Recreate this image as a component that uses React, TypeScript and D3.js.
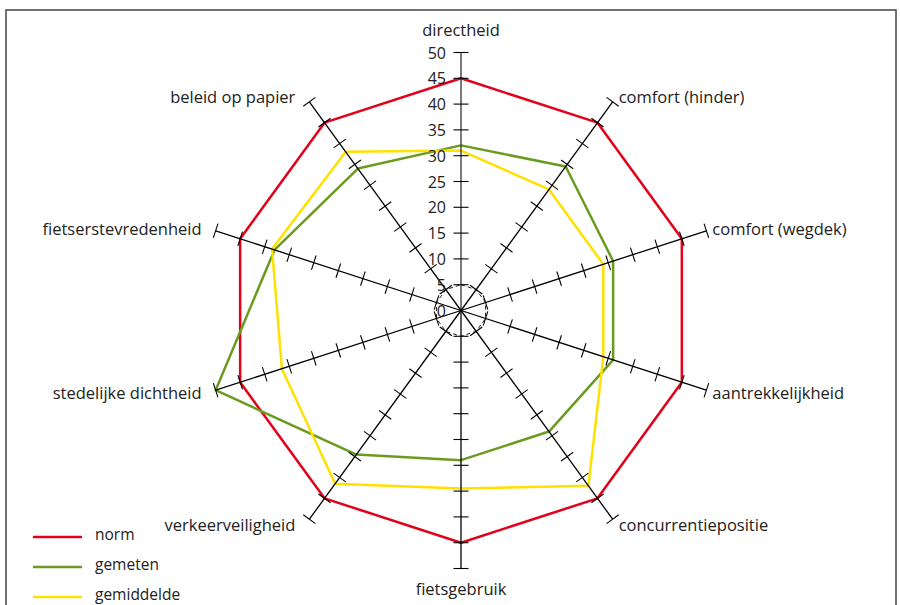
import React from 'react';
import * as d3 from 'd3';

const axes = [
  'directheid',
  'comfort (hinder)',
  'comfort (wegdek)',
  'aantrekkelijkheid',
  'concurrentiepositie',
  'fietsgebruik',
  'verkeerveiligheid',
  'stedelijke dichtheid',
  'fietserstevredenheid',
  'beleid op papier',
];
const norm = [45, 45, 45, 45, 45, 45, 45, 45, 45, 45];
const gemeten = [32, 34.5, 31, 31, 29, 29, 34.5, 50, 38, 34];
const gemiddelde = [31, 29, 29, 29, 42, 34.5, 41.5, 36.5, 38.5, 38];
const tickValues = [0, 5, 10, 15, 20, 25, 30, 35, 40, 45, 50];

const series = [
  { name: 'norm', values: norm, color: '#e2001a' },
  { name: 'gemeten', values: gemeten, color: '#6b9b1e' },
  { name: 'gemiddelde', values: gemiddelde, color: '#ffe100' },
];

const W = 900, H = 605;
const cx = 461, cy = 310.5;
const font = '"Open Sans", sans-serif';

export default function App() {
  const r = d3.scaleLinear().domain([0, 50]).range([0, 258]);
  const angle = d3.scaleLinear().domain([0, axes.length]).range([0, 2 * Math.PI]);
  const pt = (i: number, v: number): [number, number] => {
    const a = angle(i);
    return [cx + r(v) * Math.sin(a), cy - r(v) * Math.cos(a)];
  };
  const radial = d3.lineRadial<number>()
    .angle((d, i) => angle(i))
    .radius(d => r(d))
    .curve(d3.curveLinearClosed);

  return (
    <svg width={W} height={H} style={{ position: 'absolute', left: 0, top: 0 }}>
      <rect x={6} y={10} width={890} height={620} fill="#fff" stroke="#444" strokeWidth={1.5} />
      <g transform={`translate(${cx},${cy})`}>
        {series.map(s => (
          <path key={s.name} d={radial(s.values) || ''} fill="none" stroke={s.color} strokeWidth={2.5} strokeLinejoin="round" />
        ))}
        <path d={radial(axes.map(() => 5)) || ''} fill="none" stroke="#222" strokeWidth={1} strokeDasharray="4,3" />
      </g>
      {axes.map((name, i) => {
        const [x2, y2] = pt(i, 50);
        const a = angle(i);
        const px = Math.cos(a), py = Math.sin(a);
        return (
          <g key={name}>
            <line x1={cx} y1={cy} x2={x2} y2={y2} stroke={i === 0 ? '#333' : '#000'} strokeWidth={1.3} />
            {tickValues.slice(1).map(t => {
              const [tx, ty] = pt(i, t);
              return <line key={t} x1={tx - px * 7.5} y1={ty - py * 7.5} x2={tx + px * 7.5} y2={ty + py * 7.5} stroke="#000" strokeWidth={1.1} />;
            })}
          </g>
        );
      })}
      {tickValues.map(t => (
        <text key={t} x={cx - 15} y={cy - r(t)} textAnchor="end" dominantBaseline="central" fontFamily={font} fontSize={16} fill="#222">{t}</text>
      ))}
      {axes.map((name, i) => {
        const [x, y] = pt(i, 50);
        const a = angle(i);
        let anchor = 'middle', tx = x, ty = y - Math.cos(a) * 6;
        if (i === 0) { ty = y - 23; }
        else if (i === 5) { ty = y + 20; }
        else if (i < 5) { anchor = 'start'; tx = x + 6; }
        else { anchor = 'end'; tx = x - 14; }
        return (
          <text key={name} x={tx} y={ty} textAnchor={anchor} dominantBaseline="central" fontFamily={font} fontSize={16.5} fill="#222">{name}</text>
        );
      })}
      {series.map((s, i) => (
        <g key={s.name} transform={`translate(33,${537 + i * 30})`}>
          <line x1={0} x2={49} y1={0} y2={0} stroke={s.color} strokeWidth={2.5} />
          <text x={62} y={-3} dominantBaseline="central" fontFamily={font} fontSize={15.5} fill="#222">{s.name}</text>
        </g>
      ))}
    </svg>
  );
}
